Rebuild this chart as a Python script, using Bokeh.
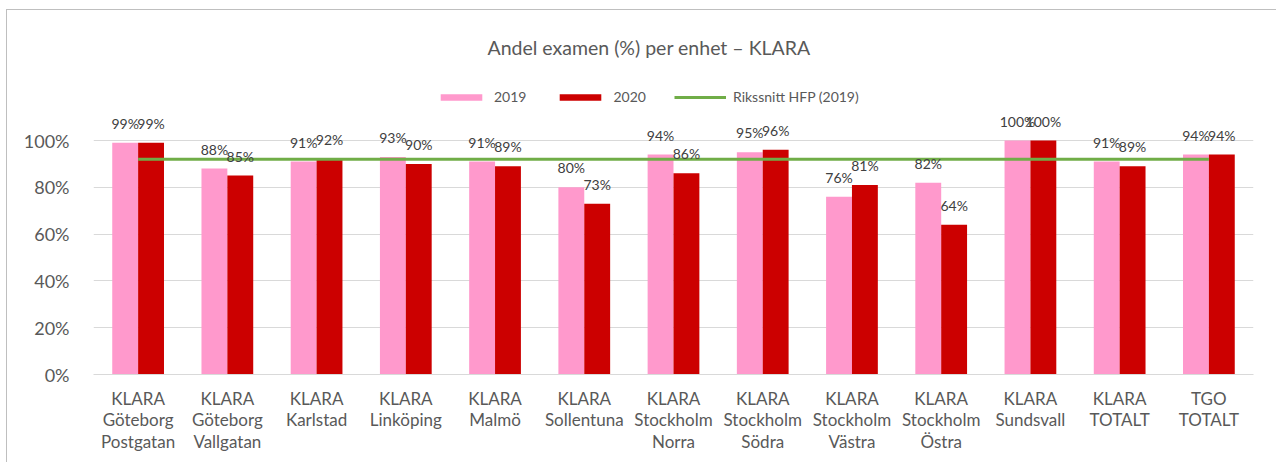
from bokeh.plotting import figure
from bokeh.models import ColumnDataSource, FactorRange, FixedTicker, Legend, LegendItem, NumeralTickFormatter, Range1d
from bokeh.transform import dodge
from bokeh.embed import file_html
from bokeh.resources import INLINE
from bokeh.core.properties import value

categories = ["KLARA\nGöteborg\nPostgatan", "KLARA\nGöteborg\nVallgatan", "KLARA\nKarlstad",
              "KLARA\nLinköping", "KLARA\nMalmö", "KLARA\nSollentuna", "KLARA\nStockholm\nNorra",
              "KLARA\nStockholm\nSödra", "KLARA\nStockholm\nVästra", "KLARA\nStockholm\nÖstra",
              "KLARA\nSundsvall", "KLARA\nTOTALT", "TGO\nTOTALT"]
v2019 = [0.99, 0.88, 0.91, 0.93, 0.91, 0.80, 0.94, 0.95, 0.76, 0.82, 1.00, 0.91, 0.94]
v2020 = [0.99, 0.85, 0.92, 0.90, 0.89, 0.73, 0.86, 0.96, 0.81, 0.64, 1.00, 0.89, 0.94]
rikssnitt = 0.92
yticks = [0, 0.2, 0.4, 0.6, 0.8, 1.0]

FONT = "Lato"
src = ColumnDataSource(dict(
    cat=categories, y19=v2019, y20=v2020,
    l19=[f"{round(v*100)}%" for v in v2019],
    l20=[f"{round(v*100)}%" for v in v2020],
))

p = figure(x_range=FactorRange(*categories), y_range=Range1d(0, 1.265),
           width=1270, height=453, output_backend="svg", toolbar_location=None,
           min_border_left=86, min_border_right=24, min_border_top=68, min_border_bottom=89,
           title="Andel examen (%) per enhet – KLARA")
p.styles = {"margin-left": "6px", "margin-top": "9px",
            "border-left": "1px solid #bfbfbf", "border-top": "1px solid #bfbfbf"}
p.outline_line_color = None
p.title.align = "left"
p.title.offset = 394
p.title.text_font = FONT
p.title.text_font_style = "normal"
p.title.text_font_size = "19.5px"
p.title.text_color = "#595959"
p.title.standoff = 40

r19 = p.vbar(x=dodge("cat", -0.145, range=p.x_range), top="y19", width=0.29, source=src,
             fill_color="#ff99cc", line_color=None)
r20 = p.vbar(x=dodge("cat", 0.145, range=p.x_range), top="y20", width=0.29, source=src,
             fill_color="#cc0000", line_color=None)
rl = p.line(x=[categories[0], categories[-1]], y=[rikssnitt, rikssnitt], line_color="#70ad47", line_width=3)

for col, lab, dx in (("y19", "l19", -0.145), ("y20", "l20", 0.145)):
    p.text(x=dodge("cat", dx, range=p.x_range), y=col, text=lab, source=src,
           text_align="center", text_baseline="bottom", y_offset=-11,
           text_font=value(FONT), text_font_size="14px", text_color="#404040")

legend = Legend(items=[LegendItem(label="2019", renderers=[r19]),
                       LegendItem(label="2020", renderers=[r20]),
                       LegendItem(label="Rikssnitt HFP (2019)", renderers=[rl])],
                orientation="horizontal", location=(342, 269), padding=0, margin=0,
                glyph_width=52, glyph_height=8, label_standoff=7, spacing=28,
                label_text_font=FONT, label_text_font_size="14px", label_text_color="#595959",
                background_fill_alpha=0, border_line_color=None)
p.add_layout(legend)

p.yaxis.ticker = FixedTicker(ticks=yticks)
p.yaxis.formatter = NumeralTickFormatter(format="0%")
p.yaxis.axis_line_color = None
p.yaxis.major_tick_line_color = None
p.yaxis.minor_tick_line_color = None
p.yaxis.major_label_text_font = FONT
p.yaxis.major_label_text_font_size = "18px"
p.yaxis.major_label_text_color = "#595959"
p.yaxis.major_label_standoff = 18

p.xaxis.axis_line_color = "#d9d9d9"
p.xaxis.major_tick_line_color = None
p.xaxis.minor_tick_line_color = None
p.xaxis.major_label_text_font = FONT
p.xaxis.major_label_text_font_size = "17px"
p.xaxis.major_label_text_color = "#595959"
p.xaxis.major_label_standoff = 7
p.xaxis.major_label_text_line_height = 1.04

p.xgrid.grid_line_color = None
p.ygrid.grid_line_color = "#d9d9d9"
p.ygrid.ticker = FixedTicker(ticks=yticks)

open("out.html", "w").write(file_html(p, INLINE))
